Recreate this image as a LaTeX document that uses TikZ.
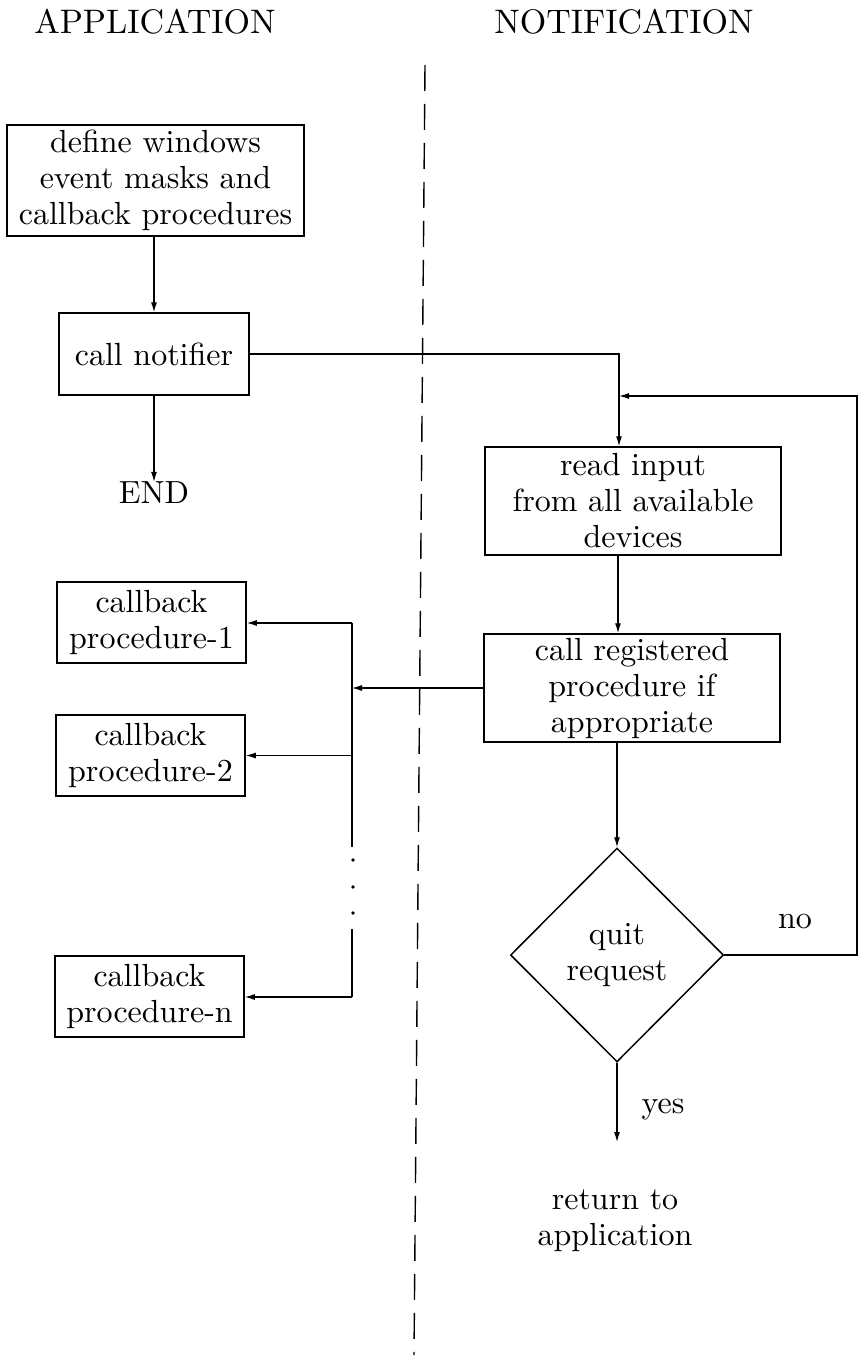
\documentclass[tikz,border=0pt]{standalone}
\usepackage{fontspec}
\setmainfont{lmroman10-regular}[Extension=.otf]
\usetikzlibrary{arrows.meta,shapes.geometric}
\begin{document}
\begin{tikzpicture}[x=1pt,y=-1pt,
  every node/.style={font=\fontsize{32}{36}\selectfont, align=center, inner sep=0pt},
  heading/.style={font=\fontsize{34}{40}\selectfont},
  procbox/.style={draw, line width=1.5pt},
  decision/.style={draw, line width=1.5pt, diamond, minimum width=213pt, minimum height=214pt},
  link/.style={line width=1.2pt},
  flow/.style={link, -{Latex[length=10pt,width=6pt]}},
  divider/.style={line width=1.4pt, dash pattern=on 26pt off 13pt}]
\useasboundingbox (0,0) rectangle (858,1359);

% column headings
\node[heading] (apptitle) at (155,22) {APPLICATION};
\node[heading] (nottitle) at (624,22) {NOTIFICATION};

% boundary between the two sides
\coordinate (divtop) at (425,65);
\coordinate (divbot) at (414,1355);
\draw[divider] (divtop) -- (divbot);

% application side
\node[procbox, minimum width=297pt, minimum height=111pt] (define) at (155.5,180.5)
  {define windows\\event masks and\\callback procedures};
\node[procbox, minimum width=190pt, minimum height=82pt] (notifier) at (154,354) {call notifier};
\node (endtext) at (154,493) {END};

\node[procbox, minimum width=189pt, minimum height=81pt] (cb1) at (151.5,622.5) {callback\\procedure-1};
\node[procbox, minimum width=189pt, minimum height=81pt] (cb2) at (150.5,755.5) {callback\\procedure-2};
\node[procbox, minimum width=189pt, minimum height=81pt] (cbn) at (149.5,996.5) {callback\\procedure-n};

% notification side
\node[procbox, minimum width=296pt, minimum height=108pt] (read) at (633,501)
  {read input\\from all available\\devices};
\node[procbox, minimum width=296pt, minimum height=108pt] (reg) at (632,688)
  {call registered\\procedure if\\appropriate};
\node[decision] (quit) at (617,955) {quit\\request};
\node (nolabel) at (795,921) {no};
\node (yeslabel) at (663,1110) {yes};
\node (ret) at (615,1221) {return to\\application};

% connectors on the application side
\draw[flow] (define.south -| notifier.north) -- (notifier.north);
\draw[flow] (notifier.south) -- (endtext.north);

% main loop
\coordinate (loopx) at (619,0);
\coordinate (feedx) at (857,0);
\draw[flow] (notifier.east) -| (read.north -| loopx);
\draw[flow] (read.south -| 618,0) -- (reg.north -| 618,0);
\draw[flow] (reg.south -| quit.north) -- (quit.north);
\coordinate (yesend) at (617,1142);
\draw[flow] (quit.south) -- (yesend);
\coordinate (feedin) at (619,396);
\draw[flow] (quit.east) -| (feedx |- feedin) -- (feedin);

% dispatch to the callback procedures
\coordinate (bustop) at (352,623);
\coordinate (busgap1) at (352,847);
\coordinate (busgap2) at (352,929);
\coordinate (busbot) at (352,997);
\draw[flow] (reg.west) -- (busgap1 |- reg.west);
\draw[link] (bustop) -- (busgap1);
\draw[link] (busgap2) -- (busbot);
\foreach \y in {860,887,913} \fill (353,\y) circle (1.8pt);
\draw[flow] (bustop) -- (cb1.east |- bustop);
\draw[flow] (busgap1 |- cb2.east) -- (cb2.east);
\draw[flow] (busbot) -- (cbn.east |- busbot);
\end{tikzpicture}
\end{document}
